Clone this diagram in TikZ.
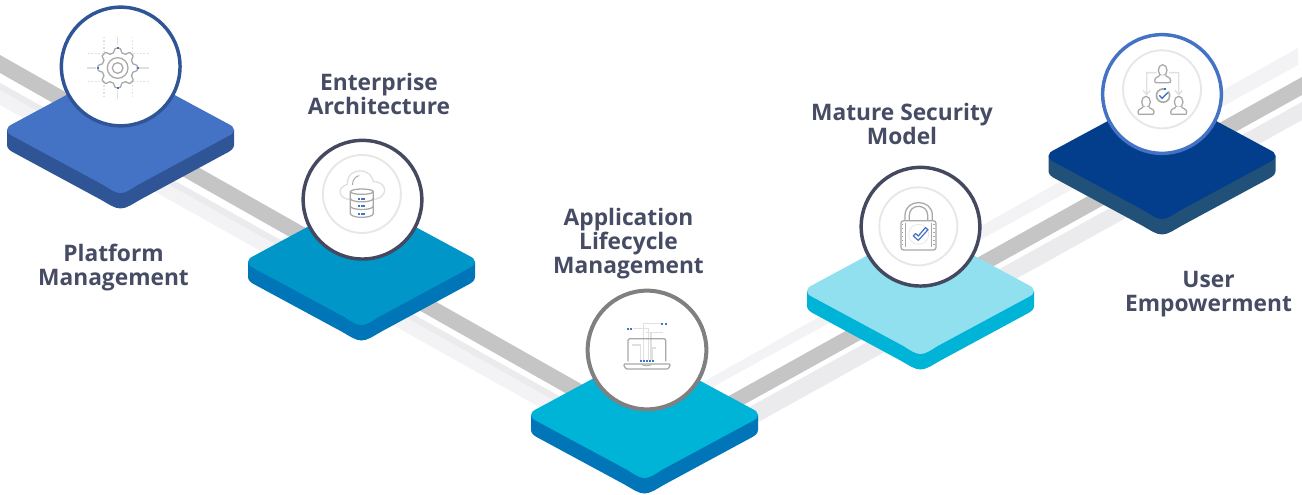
\documentclass[tikz,border=0pt]{standalone}
\usepackage{fontspec}
\setmainfont{Open Sans}
\definecolor{txtc}{HTML}{474C65}
\definecolor{ringc}{HTML}{E7E7E7}
\definecolor{icong}{HTML}{A8A8A8}
\definecolor{iconl}{HTML}{E0E0E0}
\definecolor{iconb}{HTML}{4472C4}
\definecolor{bandg}{HTML}{C5C5C5}
\definecolor{bandl}{HTML}{F3F3F5}
\definecolor{bandm}{HTML}{EBEBED}
\definecolor{ink}{HTML}{44495F}
\definecolor{pa}{HTML}{4472C4}
\definecolor{pas}{HTML}{2F5597}
\definecolor{pb}{HTML}{0097C8}
\definecolor{pbs}{HTML}{0076B8}
\definecolor{pc}{HTML}{00B4D8}
\definecolor{pd}{HTML}{91E0F0}
\definecolor{pe}{HTML}{033E8C}
\definecolor{pes}{HTML}{215078}
\tikzset{
  label text/.style={text=txtc,font=\bfseries\fontsize{17.05}{18}\selectfont,align=center,inner sep=0pt},
  badge/.style={circle,fill=white,minimum size=89pt,inner sep=0pt,line width=2.6pt},
  ring/.style={draw=ringc,line width=1.4pt},
  ic/.style={draw=icong,line width=.95pt,line join=round},
  il/.style={draw=iconl,line width=1pt},
}
\newcommand{\platformshape}[2]{%
  (#1-113.5,#2) .. controls (#1-113.5,#2+3) and (#1-111,#2+4.5) .. (#1-107,#2+6.5)
  -- (#1-17,#2+55) .. controls (#1-10,#2+59.5) and (#1-5,#2+63) .. (#1,#2+63)
  .. controls (#1+5,#2+63) and (#1+10,#2+59.5) .. (#1+17,#2+55)
  -- (#1+107,#2+6.5) .. controls (#1+111,#2+4.5) and (#1+113.5,#2+3) .. (#1+113.5,#2)
  .. controls (#1+113.5,#2-3) and (#1+111,#2-4.5) .. (#1+107,#2-6.5)
  -- (#1+17,#2-55) .. controls (#1+10,#2-59.5) and (#1+5,#2-63) .. (#1,#2-63)
  .. controls (#1-5,#2-63) and (#1-10,#2-59.5) .. (#1-17,#2-55)
  -- (#1-107,#2-6.5) .. controls (#1-111,#2-4.5) and (#1-113.5,#2-3) .. (#1-113.5,#2) -- cycle}
\newcommand{\platform}[4]{%
  \fill[#4] (#1-113.5,#2) -- (#1-113.5,#2+15) .. controls (#1-113.5,#2+18) and (#1-111,#2+20.5) .. (#1-107,#2+22.5)
    -- (#1-20,#2+69.5) .. controls (#1-12,#2+74) and (#1-6,#2+78.5) .. (#1,#2+78.5)
    .. controls (#1+6,#2+78.5) and (#1+12,#2+74) .. (#1+20,#2+69.5)
    -- (#1+107,#2+22.5) .. controls (#1+111,#2+20.5) and (#1+113.5,#2+18) .. (#1+113.5,#2+15)
    -- (#1+113.5,#2) -- cycle;
  \fill[#3] \platformshape{#1}{#2};
}
\newcommand{\sq}[2]{\fill[iconb] (#1-3.2,#2-3.2) rectangle (#1+3.2,#2+3.2);}
\newcommand{\person}[2]{%
  \draw[ic] (#1,#2-14) ellipse[x radius=13,y radius=17];
  \draw[ic,fill=white] (#1-9,#2+1) .. controls (#1-9,#2+5) and (#1-24,#2+6) .. (#1-24,#2+16)
    .. controls (#1-24,#2+23) and (#1-22,#2+23) .. (#1-18,#2+23) -- (#1+18,#2+23)
    .. controls (#1+22,#2+23) and (#1+24,#2+23) .. (#1+24,#2+16)
    .. controls (#1+24,#2+6) and (#1+9,#2+5) .. (#1+9,#2+1);}
\begin{document}
\begin{tikzpicture}[x=.75pt,y=-.75pt]
\useasboundingbox (0,0) rectangle (1302,495);
\clip (0,0) rectangle (1302,495);
\fill[white] (0,0) rectangle (1302,495);
% bands, left
\fill[bandl] (0,83) -- (600,419) -- (600,441) -- (0,105) -- cycle;
\fill[bandm] (0,83) -- (600,419) -- (600,426) -- (0,90) -- cycle;
\fill[bandg] (0,55) -- (600,394.6) -- (600,412.6) -- (0,73) -- cycle;
% bands, right
\fill[bandl] (680,395) -- (1298,48) -- (1298,65) -- (680,405) -- cycle;
\fill[bandg] (700,412) -- (1302,77) -- (1302,95) -- (700,429) -- cycle;
\fill[bandm] (735,415) -- (1302,102) -- (1302,120) -- (735,435) -- cycle;
% platforms
\platform{120.5}{130}{pa}{pas}
\platform{361.5}{262}{pb}{pbs}
\platform{644.5}{415}{pc}{pbs}
\platform{920.5}{291}{pd}{pc}
\platform{1162}{156}{pe}{pes}
% badges
\node[badge,draw=pas] (b1) at (120.7,66.5) {};
\node[badge,draw=ink] (b2) at (362.5,199.7) {};
\node[badge,draw=black!50,line width=3pt] (b3) at (647,350) {};
\node[badge,draw=ink] (b4) at (920.5,226.7) {};
\node[badge,draw=iconb] (b5) at (1162,94) {};
% gear icon (coordinates of a 3x crop)
\begin{scope}[shift={(0,0)},x=.25pt,y=-.25pt]
  \draw[iconl,line width=1.2pt,dash pattern=on 1.2pt off 1.4pt] (312,110) -- (312,296) (398,110) -- (398,296) (264,160) -- (446,160) (264,245) -- (446,245);
  \draw[iconl,line width=1.1pt] (262,204) -- (288,204) (418,204) -- (446,204) (353,110) -- (353,136) (353,270) -- (353,297);
  \draw[ic,fill=white] plot[domain=0:360,samples=289] ({353+(53+6*max(-1,min(1,1.8*cos(8*\x))))*cos(\x)},{204+(53+6*max(-1,min(1,1.8*cos(8*\x))))*sin(\x)}) -- cycle;
  \draw[ic] (353,204) circle[radius=31] (353,204) circle[radius=16];
  \sq{353}{144}\sq{353}{263}\sq{294}{204}\sq{413}{204}
\end{scope}
% cloud and database icon
\begin{scope}[shift={(290,130)},x=.25pt,y=-.25pt]
  \draw[ring] (215.7,192) circle[radius=117];
  \draw[il] (182,208) .. controls (150,210) and (135,175) .. (172,163) .. controls (172,130) and (195,122) .. (212,123)
     .. controls (235,123) and (248,140) .. (250,155) .. controls (295,155) and (295,205) .. (250,208);
  \draw[ic,line width=.7pt] (187,165) .. controls (188,148) and (197,138) .. (208,137);
  \draw[ic,fill=white] (181,185) -- (181,250) .. controls (181,266) and (250,266) .. (250,250) -- (250,185) -- cycle;
  \draw[ic] (181,205) .. controls (181,219) and (250,219) .. (250,205);
  \draw[ic] (181,228) .. controls (181,242) and (250,242) .. (250,228);
  \draw[ic,fill=white] (215.5,185) ellipse[x radius=34.5,y radius=8];
  \foreach \u in {207,215,223}{\foreach \v in {207,228,252}{\fill[iconb] (\u-2.8,\v-2.8) rectangle (\u+2.8,\v+2.8);}}
\end{scope}
% laptop icon
\begin{scope}[shift={(570,280)},x=.25pt,y=-.25pt]
  \draw[il] (220,240) -- (220,130) -- (272,130);
  \draw[il] (190,146) -- (235,146) -- (235,240);
  \draw[il] (228,158) -- (278,158) (243,158) -- (243,240);
  \draw[il] (187,195) -- (212,195) -- (212,240);
  \draw[il] (248,240) -- (248,204) -- (259,204);
  \draw[ic,rounded corners=1.5pt] (174,244) -- (174,176) -- (287,176) -- (287,244);
  \draw[ic,rounded corners=1pt,fill=white] (160,252) -- (302,252) -- (295,267) -- (167,267) -- cycle;
  \draw[ic,line width=.6pt] (215,252) .. controls (217,259) and (243,259) .. (245,252);
  \sq{175}{147}\sq{183}{147}\sq{276}{132}\sq{287}{132}
  \sq{213}{243}\sq{221}{243}\sq{230}{243}\sq{239}{243}\sq{249}{243}
\end{scope}
% lock icon
\begin{scope}[shift={(850,160)},x=.25pt,y=-.25pt]
  \draw[ring] (205,199) circle[radius=117];
  \draw[ic] (165,182) -- (165,166) .. controls (165,115) and (247,115) .. (247,166) -- (247,182);
  \draw[ic] (178,182) -- (178,166) .. controls (178,130) and (233,130) .. (233,166) -- (233,182);
  \draw[ic,rounded corners=2pt,fill=white] (153,182) -- (258,182) -- (258,270) -- (153,270) -- cycle;
  \draw[ic,line width=.5pt] (166,190) -- (166,262) (245,190) -- (245,262);
  \draw[icong,line width=1pt,dotted] (158,192) -- (158,262) (252,192) -- (252,262);
  \draw[iconl,fill=white] (206,223) circle[radius=30];
  \draw[iconb,line width=.9pt,line join=round] (190,228) -- (205,241) -- (234,209) -- (226,203) -- (205,228) -- (197,221) -- cycle;
\end{scope}
% users icon
\begin{scope}[shift={(1090,20)},x=.25pt,y=-.25pt]
  \draw[ring] (216,208) circle[radius=117];
  \draw[il,line cap=round] (198,158) -- (170,158) -- (170,220) (160,212) -- (170,224) -- (180,212);
  \draw[il,line cap=round] (238,158) -- (266,158) -- (266,220) (256,212) -- (266,224) -- (276,212);
  \person{218}{165}
  \person{168}{260}
  \person{266}{260}
  \draw[ic,line width=1.2pt] (226,208) arc[start angle=-70,end angle=-400,radius=20];
  \draw[iconb,line width=1pt] (208,226) -- (216,235) -- (233,218);
  \fill[iconb] (222.5,203.5) rectangle (229,210);
\end{scope}
% labels
\node[label text] (t1) at (113.5,268) {Platform\\Management};
\node[label text] (t2) at (379,94) {Enterprise\\Architecture};
\node[label text] (t3) at (628.5,244) {Application\\Lifecycle\\Management};
\node[label text] (t4) at (902,124) {Mature Security\\Model};
\node[label text] (t5) at (1208.5,294) {User\\Empowerment};
\end{tikzpicture}
\end{document}
